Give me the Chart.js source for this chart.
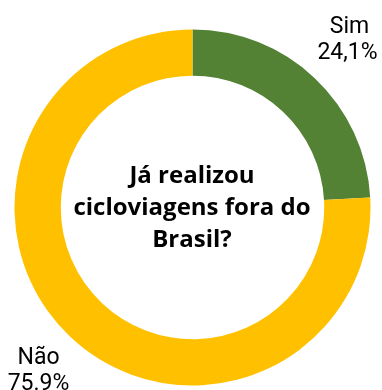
<!DOCTYPE html>
<html>
<head>
<meta charset="utf-8">
<script src="https://cdn.jsdelivr.net/npm/chart.js@4/dist/chart.umd.min.js"></script>
<style>
html,body{margin:0;padding:0;background:#fff;}
#wrap{width:382px;height:390px;}
</style>
</head>
<body>
<div id="wrap"><canvas id="c" width="382" height="390"></canvas></div>
<script>
const categories = ["Sim", "Não"];
const values = [24.1, 75.9];
const valueLabels = ["24,1%", "75.9%"];
const colors = ["#548235", "#FFC000"];
const centerLines = ["Já realizou", "cicloviagens fora do", "Brasil?"];

const labelPlugin = {
  id: 'labels',
  afterDraw(chart) {
    const ctx = chart.ctx;
    const arc = chart.getDatasetMeta(0).data[0];
    const cx = arc.x, cy = arc.y;
    ctx.save();
    ctx.fillStyle = '#000';
    ctx.textAlign = 'center';
    ctx.textBaseline = 'middle';
    ctx.font = "bold 24px 'Open Sans'";
    const lh = 32;
    const start = cy + 1 - lh * (centerLines.length - 1) / 2;
    centerLines.forEach((t, i) => ctx.fillText(t, cx - 0.5, start + i * lh));
    ctx.font = "23px Roboto";
    ctx.textBaseline = 'alphabetic';
    // Sim label (top right)
    ctx.fillText(categories[0], cx + 157, 33);
    ctx.fillText(valueLabels[0], cx + 155, 59);
    // Não label (bottom left)
    ctx.fillText(categories[1], cx - 154, 364);
    ctx.fillText(valueLabels[1], cx - 154, 390);
    ctx.restore();
  }
};

new Chart(document.getElementById('c'), {
  type: 'doughnut',
  data: {
    labels: categories,
    datasets: [{
      data: values,
      backgroundColor: colors,
      borderWidth: 0
    }]
  },
  options: {
    responsive: false,
    animation: false,
    cutout: '74%',
    layout: { padding: { top: 29.5, bottom: 4.5, left: 14.5, right: 11.5 } },
    plugins: { legend: { display: false }, tooltip: { enabled: false } }
  },
  plugins: [labelPlugin]
});
</script>
</body>
</html>
